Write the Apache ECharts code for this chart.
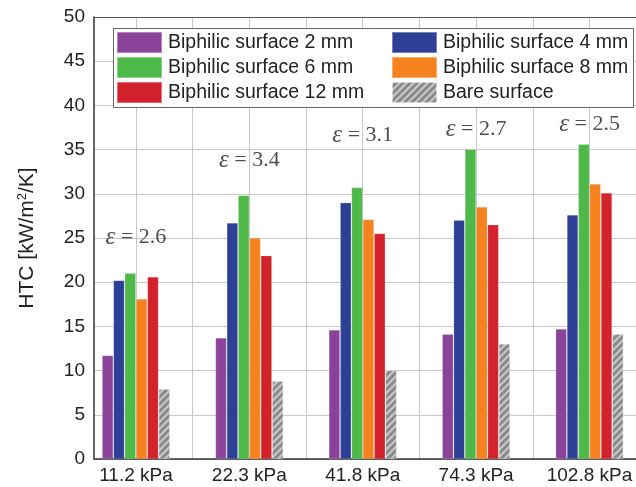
<!DOCTYPE html>
<html>
<head>
<meta charset="utf-8">
<script src="https://cdn.jsdelivr.net/npm/echarts@6/dist/echarts.min.js"></script>
<style>html,body{margin:0;padding:0;background:#fff}#c{width:636px;height:487px}</style>
</head>
<body>
<div id="c"></div>
<script>
const categories = ['11.2 kPa', '22.3 kPa', '41.8 kPa', '74.3 kPa', '102.8 kPa'];
const seriesNames = ['Biphilic surface 2 mm', 'Biphilic surface 4 mm', 'Biphilic surface 6 mm', 'Biphilic surface 8 mm', 'Biphilic surface 12 mm', 'Bare surface'];
const bi2 = [11.7, 13.7, 14.6, 14.1, 14.7];
const bi4 = [20.2, 26.7, 29.0, 27.0, 27.6];
const bi6 = [21.0, 29.8, 30.7, 35.0, 35.6];
const bi8 = [18.1, 25.0, 27.1, 28.5, 31.1];
const bi12 = [20.6, 23.0, 25.5, 26.5, 30.1];
const bare = [7.9, 8.8, 10.0, 13.0, 14.1];
const epsValues = ['2.6', '3.4', '3.1', '2.7', '2.5'];
const epsLabelY = [25.1, 33.8, 36.6, 37.3, 37.9];
const yTicks = [0, 5, 10, 15, 20, 25, 30, 35, 40, 45, 50];

const colors = ['#8A4399', '#2E4096', '#4EB848', '#F5821F', '#D2222B', '#8a8a8a'];
const allData = [bi2, bi4, bi6, bi8, bi12, bare];
const FONT = 'Liberation Sans, Arial, sans-serif';
const SERIF = 'Liberation Serif, Times New Roman, serif';

const catIdx = categories.map((c, i) => i);
const gridVals = categories.flatMap((c, i) => [i, i + 0.5]);
const X_MIN = -0.37, X_MAX = 4.41;

const chart = echarts.init(document.getElementById('c'), null, {renderer: 'canvas'});

const barSeries = allData.map((arr, k) => ({
  name: seriesNames[k],
  type: 'bar',
  xAxisIndex: 0,
  yAxisIndex: 0,
  barWidth: 11,
  barGap: '3%',
  data: arr.map((v, i) => [i, v]),
  itemStyle: Object.assign({
    color: colors[k],
    borderColor: 'rgba(255,255,255,0.35)',
    borderWidth: 0.5
  }, k === 5 ? {decal: {symbol: 'rect', dashArrayX: [1, 0], dashArrayY: [2, 3], rotation: -Math.PI / 4, color: 'rgba(255,255,255,0.55)'}} : {}),
  emphasis: {disabled: true},
  z: 3
}));

const epsSeries = {
  type: 'scatter',
  xAxisIndex: 0,
  yAxisIndex: 0,
  symbolSize: 0,
  silent: true,
  data: epsValues.map((t, i) => ({value: [i, epsLabelY[i]], eps: t})),
  label: {
    show: true,
    position: 'inside',
    formatter: p => '{e|ε}{t| = ' + p.data.eps + '}',
    rich: {
      e: {fontFamily: SERIF, fontStyle: 'italic', fontSize: 25, color: '#222'},
      t: {fontFamily: SERIF, fontSize: 22, color: '#222'}
    }
  },
  z: 5
};

const legendCommon = {
  orient: 'vertical',
  top: 31,
  icon: 'rect',
  itemWidth: 45,
  itemHeight: 21,
  itemGap: 2,
  padding: 0,
  z: 20,
  selectedMode: false,
  textStyle: {fontFamily: FONT, fontSize: 19.5, color: '#222', padding: [0, 0, 0, 1]}
};

const option = {
  animation: false,
  backgroundColor: '#ffffff',
  grid: {left: 94, top: 17, right: 0, height: 442, containLabel: false, outerBoundsMode: 'none'},
  xAxis: [{
    type: 'value',
    min: X_MIN,
    max: X_MAX,
    axisLine: {show: true, onZero: false, lineStyle: {color: '#333', width: 1.5}},
    axisTick: {show: false, customValues: gridVals},
    splitLine: {show: true, lineStyle: {color: '#c8c8c8', width: 1}},
    axisLabel: {
      show: true,
      customValues: catIdx,
      margin: 7,
      fontFamily: FONT,
      fontSize: 19,
      color: '#222',
      hideOverlap: false,
      formatter: v => {
        const r = Math.round(v);
        return (Math.abs(v - r) < 1e-6 && categories[r] !== undefined) ? categories[r] : '';
      }
    }
  }, {
    type: 'value',
    position: 'top',
    min: X_MIN,
    max: X_MAX,
    axisLine: {show: true, onZero: false, lineStyle: {color: '#555', width: 1}},
    axisTick: {show: false},
    axisLabel: {show: false},
    splitLine: {show: false}
  }],
  yAxis: [{
    type: 'value',
    min: yTicks[0],
    max: yTicks[yTicks.length - 1],
    interval: 5,
    name: 'HTC [kW/m{sup|2}/K]',
    nameLocation: 'middle',
    nameGap: 56,
    nameTextStyle: {
      fontFamily: FONT, fontSize: 21, color: '#222',
      rich: {sup: {fontFamily: FONT, fontSize: 13, color: '#222', verticalAlign: 'top', padding: [0, 0, 9, 0]}}
    },
    axisLine: {show: true, onZero: false, lineStyle: {color: '#333', width: 1.5}},
    axisTick: {show: false},
    splitLine: {show: true, lineStyle: {color: '#c8c8c8', width: 1}},
    axisLabel: {fontFamily: FONT, fontSize: 19, color: '#222', margin: 9}
  }],
  legend: [
    Object.assign({}, legendCommon, {left: 116, data: [seriesNames[0], seriesNames[2], seriesNames[4]]}),
    Object.assign({}, legendCommon, {left: 391, data: [seriesNames[1], seriesNames[3], seriesNames[5]]})
  ],
  graphic: [{
    type: 'rect',
    left: 113,
    top: 28,
    shape: {width: 520, height: 79},
    style: {fill: '#fff', stroke: '#666', lineWidth: 1},
    z: 2
  }],
  series: barSeries.concat([epsSeries])
};
chart.setOption(option);
</script>
</body>
</html>
